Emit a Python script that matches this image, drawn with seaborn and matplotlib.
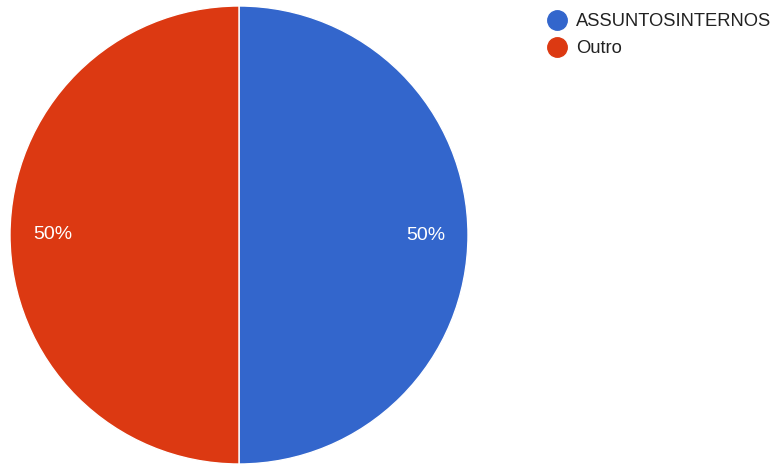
import matplotlib
matplotlib.use('Agg')
import matplotlib.pyplot as plt
import seaborn as sns
from matplotlib.lines import Line2D

# data
labels = ['ASSUNTOSINTERNOS', 'Outro']
values = [50, 50]
colors = ['#3366CC', '#DC3912']

sns.set_theme(style='white')
plt.rcParams['font.family'] = ['Liberation Sans', 'DejaVu Sans']

fig = plt.figure(figsize=(7.79, 4.67), dpi=100)
W, H = 779, 467
cx, cy, r = 239, 232, 229
ax = fig.add_axes([(cx - r) / W, (cy - r) / H, 2 * r / W, 2 * r / H])

wedges, texts, autotexts = ax.pie(
    values, colors=colors, startangle=90, counterclock=False,
    autopct='%1.0f%%', pctdistance=0.815,
    wedgeprops={'edgecolor': 'white', 'linewidth': 1},
    textprops={'color': 'white', 'fontsize': 14})
ax.set_xlim(-1, 1)
ax.set_ylim(-1, 1)
ax.set_aspect('equal')

handles = [Line2D([0], [0], marker='o', linestyle='', markersize=14,
                  markerfacecolor=c, markeredgecolor=c) for c in colors]
fig.legend(handles, labels, loc='upper left', bbox_to_anchor=(547 / W, 1 - 13 / H),
           frameon=False, fontsize=13.2, handletextpad=0.5, labelspacing=0.55,
           handlelength=1.1, borderaxespad=0, borderpad=0, labelcolor='#222222')

fig.savefig('out.png', dpi=100)
